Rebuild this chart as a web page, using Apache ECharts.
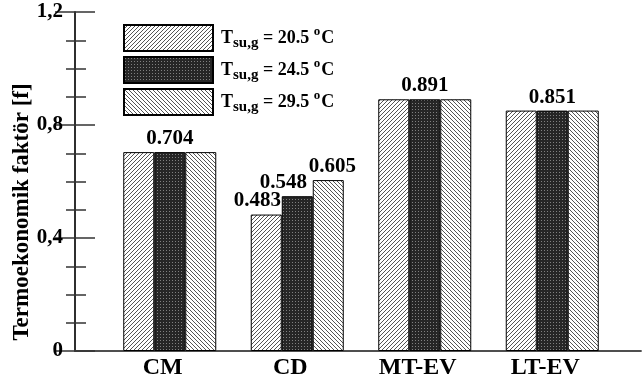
<!DOCTYPE html>
<html>
<head>
<meta charset="utf-8">
<script src="https://cdn.jsdelivr.net/npm/echarts@6/dist/echarts.min.js"></script>
<style>html,body{margin:0;padding:0;background:#fff}#c{width:642px;height:385px}</style>
</head>
<body>
<div id="c"></div>
<script>
// ---- data ----
var categories = ['CM', 'CD', 'MT-EV', 'LT-EV'];
var seriesNames = ['20.5', '24.5', '29.5'];
var values205 = [0.704, 0.483, 0.891, 0.851];
var values245 = [0.704, 0.548, 0.891, 0.851];
var values295 = [0.704, 0.605, 0.891, 0.851];
var yTicks = [0, 0.4, 0.8, 1.2];

var FONT = "'Liberation Serif','Times New Roman',serif";

function makeTile(size, fn) {
  var c = document.createElement('canvas');
  c.width = size; c.height = size;
  var ctx = c.getContext('2d');
  ctx.fillStyle = '#fff'; ctx.fillRect(0, 0, size, size);
  fn(ctx, size);
  return c;
}
var hatchFwd = makeTile(4, function (ctx, s) {
  ctx.fillStyle = '#555';
  for (var i = 0; i < s; i++) ctx.fillRect(i, s - 1 - i, 1, 1);
});
var hatchBack = makeTile(4, function (ctx, s) {
  ctx.fillStyle = '#555';
  for (var i = 0; i < s; i++) ctx.fillRect(i, i, 1, 1);
});
var dotted = makeTile(3, function (ctx, s) {
  ctx.fillStyle = '#262626'; ctx.fillRect(0, 0, s, s);
  ctx.fillStyle = '#808080'; ctx.fillRect(1, 1, 1, 1);
});
var patterns = [hatchFwd, dotted, hatchBack];
var allValues = [values205, values245, values295];
// label offsets (style) for the split category
var cdOffsets = [[-9, 0], [-14, 0], [4, 0]];

function buildData(s) {
  return allValues[s].map(function (v, i) {
    var same = values205[i] === values245[i] && values245[i] === values295[i];
    var show = same ? s === 1 : true;
    var item = { value: v, label: { show: show } };
    if (!same) item.label.offset = cdOffsets[s];
    return item;
  });
}

var series = seriesNames.map(function (n, s) {
  return {
    name: n,
    type: 'bar',
    xAxisIndex: 0, yAxisIndex: 0,
    barWidth: 31,
    barGap: '0%',
    data: buildData(s),
    itemStyle: {
      color: { image: patterns[s], repeat: 'repeat' },
      borderColor: '#000', borderWidth: 1
    },
    label: {
      position: 'top', distance: 3,
      fontFamily: FONT, fontWeight: 'bold', fontSize: 21, color: '#000',
      formatter: function (p) { return p.value.toFixed(3); }
    },
    emphasis: { disabled: true },
    animation: false
  };
});

var chart = echarts.init(document.getElementById('c'), null, { renderer: 'canvas' });
chart.setOption({
  animation: false,
  backgroundColor: '#fff',
  grid: [
    { left: 106, right: 26, top: 12, bottom: 34 },
    { left: 75, right: 1, top: 12, bottom: 34 }
  ],
  legend: {
    orient: 'vertical', left: 123, top: 24, padding: 0,
    itemWidth: 89, itemHeight: 26, itemGap: 4,
    icon: 'rect',
    data: seriesNames,
    selectedMode: false,
    formatter: function (n) { return '{t|T}{s|su,g}{t| = ' + n + ' }{o|o}{t|C}'; },
    textStyle: {
      padding: [0, 0, 0, 3],
      rich: {
        t: { fontFamily: FONT, fontWeight: 'bold', fontSize: 18, color: '#000', lineHeight: 26 },
        s: { fontFamily: FONT, fontWeight: 'bold', fontSize: 15, color: '#000', verticalAlign: 'bottom', lineHeight: 20, padding: [6, 0, 0, 0] },
        o: { fontFamily: FONT, fontWeight: 'bold', fontSize: 13, color: '#000', verticalAlign: 'top', lineHeight: 20, padding: [0, 1, 6, 0] }
      }
    }
  },
  xAxis: [
    {
      type: 'category', gridIndex: 0, data: categories,
      axisLine: { show: false }, axisTick: { show: false },
      axisLabel: { fontFamily: FONT, fontWeight: 'bold', fontSize: 24, color: '#000', margin: 5, padding: [0, 14, 0, 0] }
    },
    {
      type: 'value', gridIndex: 1, min: 0, max: 1, position: 'bottom',
      axisLine: { show: true, lineStyle: { color: '#444', width: 1.5 } },
      axisTick: { show: false }, axisLabel: { show: false }, splitLine: { show: false }
    },
    {
      type: 'value', gridIndex: 1, min: 0, max: 1, position: 'top',
      axisLine: { show: true, lineStyle: { color: '#444', width: 1.5 } },
      axisTick: { show: false }, axisLabel: { show: false }, splitLine: { show: false }
    }
  ],
  yAxis: [
    { type: 'value', gridIndex: 0, min: 0, max: 1.2, show: false },
    {
      type: 'value', gridIndex: 1, min: 0, max: 1.2, interval: 0.4, position: 'left',
      axisLine: { show: true, lineStyle: { color: '#222', width: 1.5 } },
      axisTick: { show: true, inside: true, length: 20, lineStyle: { color: '#333', width: 1.5 } },
      minorTick: { show: true, splitNumber: 4, length: 11, lineStyle: { color: '#333', width: 1.5 } },
      splitLine: { show: false },
      axisLabel: {
        fontFamily: FONT, fontWeight: 'bold', fontSize: 21, color: '#000', margin: 12,
        customValues: yTicks,
        formatter: function (v) { return v === 0 ? '0' : v.toFixed(1).replace('.', ','); }
      }
    },
    {
      type: 'value', gridIndex: 1, min: 0, max: 1.2, interval: 0.4, position: 'right',
      axisLine: { show: true, lineStyle: { color: '#222', width: 1.5 } },
      axisTick: { show: true, inside: true, length: 20, lineStyle: { color: '#333', width: 1.5 } },
      minorTick: { show: true, splitNumber: 4, length: 9, lineStyle: { color: '#333', width: 1.5 } },
      splitLine: { show: false }, axisLabel: { show: false }
    }
  ],
  graphic: [{
    type: 'text', x: 22, y: 212, rotation: Math.PI / 2,
    style: {
      text: 'Termoekonomik faktör [f]', fontFamily: FONT, fontWeight: 'bold', fontSize: 23,
      fill: '#000', textAlign: 'center', textVerticalAlign: 'middle'
    }
  }],
  series: series
});
</script>
</body>
</html>
